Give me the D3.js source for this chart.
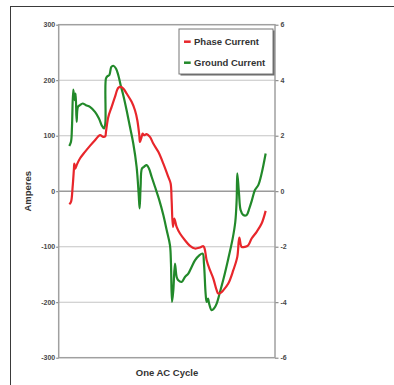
<!DOCTYPE html>
<html>
<head>
<meta charset="utf-8">
<script src="https://cdn.jsdelivr.net/npm/d3@7"></script>
<style>
  html, body { margin: 0; padding: 0; background: #fff; }
  svg { display: block; }
  text { font-family: "Liberation Sans", Arial, sans-serif; }
</style>
</head>
<body>
<div id="chart"></div>
<script>
// ---- data (phase angle in degrees across one AC cycle) ----
const phaseAngle = [0,3.1,6.1,8.5,9.2,11.0,13.4,19.5,28.7,37.8,47.0,56.1,62.2,65.9,67.1,71.4,77.5,83.6,89.7,94.0,98.8,104.9,114.1,120.2,124.5,128.1,129.3,132.4,134.2,136.7,141.6,147.6,153.7,162.9,172.1,181.2,185.5,187.3,189.7,192.2,196.5,202.6,211.7,220.9,230.0,239.2,245.3,247.7,251.4,257.5,263.6,269.7,272.7,277.0,281.9,291.0,300.2,307.5,311.2,315.4,321.5,327.6,333.7,342.9,352.0,359.4];
const phaseCurrent = [-23.4,-19.2,7.8,40.8,49.8,40.8,46.8,58.9,70.9,81.7,91.9,100.9,97.9,99.1,106.9,133.9,151.9,170.0,186.2,188.0,185.0,176.0,161.0,145.9,127.9,100.9,88.9,97.9,103.9,100.9,102.7,97.9,85.9,70.9,49.8,25.8,13.8,-16.2,-64.3,-49.2,-64.3,-76.3,-88.3,-98.5,-103.3,-101.5,-99.1,-103.3,-124.3,-142.3,-157.4,-178.4,-184.4,-183.2,-178.4,-166.4,-142.3,-118.3,-83.5,-100.3,-100.3,-97.3,-85.3,-73.3,-58.3,-35.4];

const groundAngle = [0,3.1,4.9,7.3,9.8,11.6,13.4,15.9,19.5,24.4,30.5,37.8,47.0,54.3,59.2,63.5,65.9,67.1,69.6,73.2,76.9,80.5,85.4,89.7,94.0,98.8,104.9,111.0,117.1,123.2,126.9,128.7,130.5,133.0,136.7,141.6,145.8,150.7,156.8,164.7,172.1,178.2,184.3,186.1,188.0,190.4,193.4,196.5,199.5,205.6,211.7,217.8,223.9,230.0,237.9,244.1,246.5,249.5,251.4,253.8,256.3,260.5,264.8,269.7,275.8,283.1,291.0,299.0,303.8,306.3,307.5,310.6,313.6,318.5,324.6,329.5,334.3,339.8,345.9,352.0,359.4];
const groundCurrent = [1.63,1.78,2.32,3.66,3.28,3.52,2.50,3.04,3.10,3.16,3.10,3.04,2.86,2.62,2.38,2.26,2.44,4.06,4.14,4.18,4.48,4.52,4.42,4.18,3.82,3.46,2.92,2.32,1.72,0.88,-0.08,-0.62,0.16,0.82,0.88,0.94,0.82,0.52,0.16,-0.32,-0.86,-1.40,-1.95,-2.61,-3.99,-3.57,-2.61,-3.09,-3.21,-3.27,-3.09,-2.97,-2.73,-2.49,-2.31,-2.25,-2.61,-3.69,-3.99,-3.87,-4.08,-4.29,-4.23,-4.05,-3.63,-3.09,-2.43,-1.71,-1.11,-0.32,0.64,-0.08,-0.68,-0.86,-0.86,-0.62,-0.32,0.04,0.22,0.64,1.36];

const leftTicks = [-300,-200,-100,0,100,200,300];
const rightTicks = [-6,-4,-2,0,2,4,6];
const seriesNames = ["Phase Current", "Ground Current"];
const seriesColors = ["#e8262b", "#22892a"];

// ---- layout ----
const W = 394, H = 385;
const plot = { left: 58.7, top: 24.7, right: 275, bottom: 357.7 };

const svg = d3.select("#chart").append("svg").attr("width", W).attr("height", H);
svg.append("rect").attr("width", W).attr("height", H).attr("fill", "#fff");

// outer frame
svg.append("rect").attr("x", 10.5).attr("y", 6.5).attr("width", 420).attr("height", 420)
  .attr("fill", "none").attr("stroke", "#3a3a3a").attr("stroke-width", 1);

const x = d3.scaleLinear().domain([-19.4, 376.5]).range([plot.left, plot.right]);
const yL = d3.scaleLinear().domain([-300, 300]).range([plot.bottom, plot.top]);
const yR = d3.scaleLinear().domain([-6, 6]).range([plot.bottom, plot.top]);

// gridlines
svg.append("g").selectAll("line").data(leftTicks.filter(t => Math.abs(t) < 300)).join("line")
  .attr("x1", plot.left).attr("x2", plot.right)
  .attr("y1", d => yL(d)).attr("y2", d => yL(d))
  .attr("stroke", d => d === 0 ? "#9a9a9a" : "#c4c4c4")
  .attr("stroke-width", d => d === 0 ? 1.4 : 1.1);

// axes
const fmt = d => d < 0 ? "-" + Math.abs(d) : String(d);
const gL = svg.append("g").attr("transform", `translate(${plot.left},0)`)
  .call(d3.axisLeft(yL).tickValues(leftTicks).tickSize(2.5).tickPadding(1).tickFormat(fmt));
const gR = svg.append("g").attr("transform", `translate(${plot.right},0)`)
  .call(d3.axisRight(yR).tickValues(rightTicks).tickSize(3.5).tickPadding(2).tickFormat(fmt));
[gL, gR].forEach(g => {
  g.select(".domain").remove();
  g.selectAll(".tick line").attr("stroke", "#777");
  g.selectAll(".tick text").attr("fill", "#484848").style("font-size", "7px")
    .style("font-weight", "bold")
    .style("font-family", "'Liberation Sans Narrow', 'Liberation Sans', Arial, sans-serif");
});

// plot border
svg.append("rect").attr("x", plot.left).attr("y", plot.top)
  .attr("width", plot.right - plot.left).attr("height", plot.bottom - plot.top)
  .attr("fill", "none").attr("stroke", "#a0a0a0").attr("stroke-width", 1.5);

// lines
const lineL = d3.line().x(d => x(d[0])).y(d => yL(d[1])).curve(d3.curveCatmullRom.alpha(0.5));
const lineR = d3.line().x(d => x(d[0])).y(d => yR(d[1])).curve(d3.curveCatmullRom.alpha(0.5));

svg.append("path").datum(d3.zip(groundAngle, groundCurrent))
  .attr("d", lineR).attr("fill", "none").attr("stroke", seriesColors[1])
  .attr("stroke-width", 2.2).attr("stroke-linejoin", "round");
svg.append("path").datum(d3.zip(phaseAngle, phaseCurrent))
  .attr("d", lineL).attr("fill", "none").attr("stroke", seriesColors[0])
  .attr("stroke-width", 2.2).attr("stroke-linejoin", "round");

// legend
const lg = svg.append("g").attr("transform", "translate(179,29)");
lg.append("rect").attr("x", 1.5).attr("y", 1.5).attr("width", 94).attr("height", 45)
  .attr("fill", "#666");
lg.append("rect").attr("x", 0).attr("y", 0).attr("width", 94).attr("height", 45)
  .attr("fill", "#fff").attr("stroke", "#777").attr("stroke-width", 1);
seriesNames.forEach((name, i) => {
  const yy = 12.7 + i * 21;
  lg.append("line").attr("x1", 5).attr("x2", 11.7).attr("y1", yy).attr("y2", yy)
    .attr("stroke", seriesColors[i]).attr("stroke-width", 2.5);
  lg.append("text").attr("x", 15).attr("y", yy + 3.4).text(name)
    .attr("fill", "#333").style("font-size", "9.5px").style("font-weight", "bold");
});

// axis titles
svg.append("text").attr("transform", `translate(31,${(plot.top + plot.bottom) / 2}) rotate(-90)`)
  .attr("text-anchor", "middle").text("Amperes")
  .attr("fill", "#333").style("font-size", "9.5px").style("font-weight", "bold");
svg.append("text").attr("x", 167).attr("y", 376).attr("text-anchor", "middle")
  .text("One AC Cycle").attr("fill", "#333").style("font-size", "9.5px").style("font-weight", "bold");
</script>
</body>
</html>
